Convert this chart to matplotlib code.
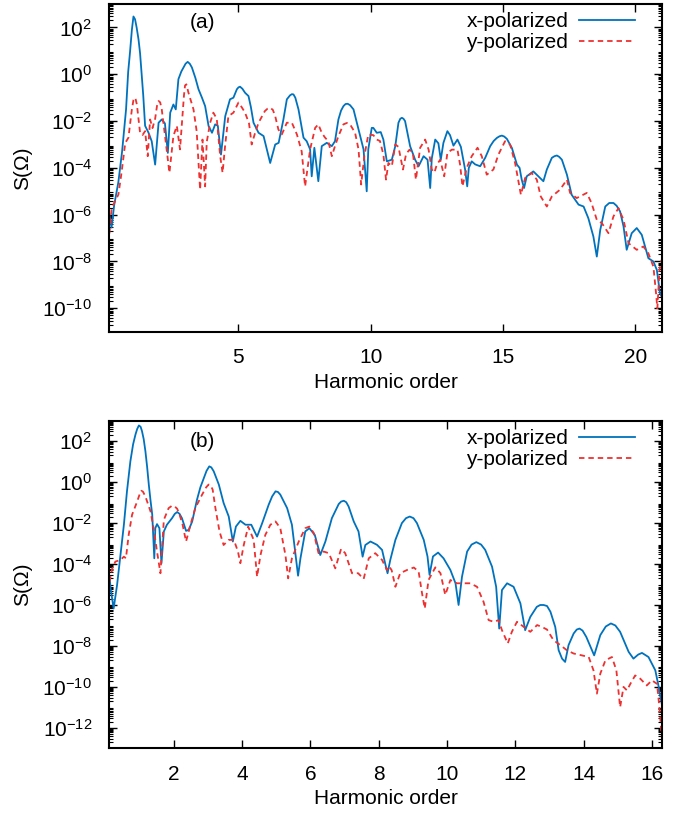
import matplotlib
matplotlib.use("Agg")
import matplotlib.pyplot as plt
import numpy as np
from matplotlib.ticker import FixedLocator, LogLocator, NullFormatter

plt.rcParams['font.family'] = ['Liberation Sans', 'DejaVu Sans']
plt.rcParams['mathtext.fontset'] = 'custom'
plt.rcParams['mathtext.rm'] = 'Liberation Sans'
plt.rcParams['mathtext.it'] = 'Liberation Sans'
plt.rcParams['mathtext.default'] = 'regular'

# ---- panel (a): harmonic order vs log10 S(Omega) ----
xa_blue = [0.12, 0.2, 0.3, 0.46, 0.6, 0.75, 0.83, 0.9, 0.97, 1.03, 1.09, 1.15, 1.22, 1.28, 1.34,
           1.4, 1.47, 1.6, 1.72, 1.85, 1.98, 2.1,
           2.22, 2.33, 2.42, 2.54, 2.63, 2.73, 2.84, 2.92, 3.0, 3.08, 3.16, 3.24, 3.37, 3.49, 3.62,
           3.74, 3.87, 4.0, 4.12, 4.22,
           4.34, 4.5, 4.68, 4.81, 4.94, 5.0, 5.06, 5.15, 5.25, 5.38, 5.47, 5.57, 5.76, 5.95, 6.2,
           6.39, 6.52, 6.7, 6.83, 6.95, 7.02, 7.08, 7.15, 7.27, 7.46, 7.58, 7.71, 7.77, 7.87, 8.02,
           8.15, 8.34, 8.53, 8.65, 8.78, 8.88, 8.97, 9.05, 9.13, 9.22, 9.35, 9.54, 9.73, 9.85, 9.91,
           10.04, 10.1, 10.23, 10.38, 10.48, 10.61, 10.8, 10.93,
           11.05, 11.12, 11.18, 11.24, 11.3, 11.49, 11.68, 11.81, 12.0, 12.15, 12.25, 12.31, 12.44,
           12.56, 12.65, 12.75, 12.9, 13.0, 13.13, 13.28, 13.41, 13.57, 13.65, 13.71, 13.82, 13.95,
           14.14, 14.33, 14.52, 14.65, 14.77, 14.87, 14.96, 15.05, 15.15, 15.34, 15.53, 15.63,
           15.71, 15.8, 15.9, 16.15, 16.34, 16.53, 16.66, 16.85, 16.95, 17.04, 17.13, 17.23, 17.42,
           17.6, 17.86, 18.05, 18.23, 18.42, 18.55, 18.68, 18.87, 19.02, 19.18, 19.3, 19.43, 19.56,
           19.68, 19.87, 20.06, 20.25, 20.5, 20.69, 20.82, 20.94, 21.0]
ya_blue = [-6.0, -6.55, -5.6, -4.6, -3.3, -1.5, 0.1, 0.95, 1.9, 2.47, 2.35, 2.0, 1.5, 0.9, 0.0,
           -0.9, -2.2, -2.5, -2.86, -3.86, -2.07,
           -1.93, -2.1, -3.36, -1.64, -1.29, -1.5, -0.21, 0.12, 0.29, 0.45, 0.53, 0.45, 0.29,
           -0.15, -0.64, -1.0, -1.36, -2.21, -2.5, -2.14, -2.2,
           -3.43, -1.79, -1.07, -1.0, -0.64, -0.56, -0.53, -0.62, -0.79, -0.93, -1.4, -2.07, -2.5,
           -2.64, -3.79, -3.0, -2.93, -1.93, -1.07, -0.9, -0.85, -0.86, -1.0, -1.5, -2.71, -2.86,
           -3.21, -4.36, -3.14, -4.57, -3.07, -2.93, -3.07, -2.86, -1.93, -1.55, -1.36, -1.27,
           -1.26, -1.32, -1.5, -2.36, -3.21, -5.0, -3.2,
           -2.29, -2.29, -2.5, -2.47, -2.79, -3.72, -3.65, -3.07,
           -2.07, -1.9, -1.86, -1.9, -2.0, -3.07, -3.65,
           -3.93, -3.5, -3.65, -4.86, -3.6, -2.79, -2.95, -3.65, -2.93, -2.43, -2.6, -3.05, -2.79,
           -3.1, -4.07, -4.79, -4.0, -3.72, -3.85, -3.93, -3.57, -3.07, -2.85, -2.72, -2.65,
           -2.62, -2.66, -2.76, -3.15, -3.86, -4.0, -4.5, -4.86, -4.36, -4.15, -4.36, -4.57, -4.07,
           -3.57, -3.5, -3.47, -3.53, -3.65, -4.29, -5.15, -5.57, -5.65, -6.15, -6.93, -7.79, -6.65,
           -5.65, -5.5, -5.5, -5.62, -5.86, -6.5, -7.5, -6.79, -6.57, -6.86, -7.86, -8.0, -8.36,
           -9.36, -9.5]

xa_red = [0.12, 0.2, 0.3, 0.46, 0.58, 0.72, 0.84, 0.97, 1.03, 1.07, 1.11, 1.16, 1.28, 1.37, 1.47,
          1.57, 1.66, 1.75, 1.85, 1.92, 1.98, 2.04, 2.1, 2.22, 2.39, 2.54, 2.67, 2.79, 2.88, 2.94,
          2.98, 3.03, 3.11, 3.3, 3.42, 3.55,
          3.64, 3.74, 3.8, 3.93, 4.05, 4.18, 4.31, 4.4, 4.5, 4.62, 4.81, 5.0, 5.12, 5.25, 5.4,
          5.5, 5.63, 5.76, 6.0, 6.1, 6.2, 6.3, 6.39, 6.51, 6.64, 6.83, 7.02, 7.21, 7.39, 7.52,
          7.71, 7.9, 8.02, 8.15, 8.27, 8.4, 8.53, 8.65, 8.78, 8.97, 9.1, 9.22, 9.41, 9.54, 9.64,
          9.76, 9.91, 10.1,
          10.23, 10.35, 10.48, 10.58, 10.67, 10.8, 10.93, 11.05, 11.22, 11.34, 11.47, 11.6, 11.71,
          11.87, 12.06, 12.19, 12.31, 12.41, 12.5, 12.63, 12.78, 12.9, 13.07, 13.28, 13.38, 13.47,
          13.63, 13.82, 14.04, 14.2, 14.39, 14.64, 14.83, 15.08, 15.27, 15.46, 15.68, 15.84, 16.09,
          16.28, 16.43, 16.66, 16.85, 17.16, 17.42, 17.54, 17.79, 18.17, 18.35, 18.55, 18.74,
          18.99, 19.18, 19.37, 19.56, 19.75, 20.06, 20.31, 20.5, 20.69, 20.79, 20.84, 20.92, 21.0]
ya_red = [-6.8, -5.8, -5.5, -5.14, -4.2, -2.93, -2.71, -1.5, -1.1, -1.0, -1.05, -1.3, -2.5, -2.6,
          -2.43, -3.5, -1.93, -2.3, -1.9, -1.35, -1.14, -1.2, -1.5, -2.6, -4.21, -2.64, -2.2,
          -3.21, -1.79, -0.9, -0.48, -0.43, -0.79,
          -1.5, -2.43, -4.93, -2.79, -4.79, -2.9, -2.07, -1.64, -1.9, -3.5, -4.21, -3.0, -1.79,
          -1.64, -1.21, -1.4, -1.64, -2.1, -3.0, -2.5, -2.07, -1.57, -1.47, -1.43, -1.52, -1.79,
          -2.36, -2.57, -2.07, -2.07, -2.57, -3.29, -4.79, -3.21, -2.29, -2.14, -2.5, -2.7,
          -2.86, -3.5, -3.07, -2.64, -2.14, -2.08, -2.14, -2.5, -3.21, -4.71, -3.5, -2.57, -2.6,
          -2.79, -2.85, -3.43, -4.5,
          -3.79, -3.93, -3.0, -3.1, -4.07, -3.4, -3.22, -3.4, -4.5, -3.14, -2.79, -3.22, -4.07,
          -4.2, -3.86, -3.65, -4.36, -3.36, -3.22, -3.22, -3.86, -4.79, -4.0, -3.5, -3.14, -3.5,
          -4.29, -4.07, -3.43, -2.86, -3.0, -3.79, -5.15, -4.43, -4.22, -4.5, -5.22, -5.65, -5.22,
          -4.93, -4.5, -5.07, -5.29, -5.07, -5.5, -6.22, -6.36, -6.79, -6.07, -5.72, -6.22, -7.22,
          -7.5, -7.36, -7.65, -8.22, -9.36, -10.0, -8.36, -7.93]

# ---- panel (b) ----
xb_blue = [0.12, 0.15, 0.24, 0.34, 0.44, 0.54, 0.63, 0.73, 0.81, 0.88, 0.93, 0.98, 1.03, 1.07,
           1.12, 1.17, 1.22, 1.27, 1.32, 1.37, 1.43,
           1.46, 1.51, 1.58, 1.64, 1.71, 1.8, 1.95, 2.03, 2.1, 2.17, 2.24, 2.36, 2.44, 2.54, 2.68,
           2.78, 2.88, 2.96, 3.04, 3.1, 3.17, 3.32, 3.46, 3.61, 3.73, 3.82, 3.95, 4.1, 4.27, 4.44,
           4.59, 4.78, 4.88, 4.98, 5.05, 5.12, 5.32,
           5.46, 5.58, 5.64, 5.71, 5.85, 5.97, 6.13, 6.29, 6.44, 6.63, 6.83, 6.9, 6.98, 7.05, 7.12,
           7.27, 7.41, 7.53, 7.61, 7.76, 7.95, 8.1, 8.2, 8.26, 8.34, 8.49, 8.68, 8.8, 8.91, 9.02,
           9.12, 9.32, 9.43, 9.49,
           9.59, 9.74, 9.9, 10.1, 10.25, 10.34, 10.44, 10.59, 10.72, 10.86, 11.0, 11.12, 11.32,
           11.44, 11.53, 11.61, 11.76, 11.95, 12.15, 12.29, 12.44, 12.63, 12.73, 12.83, 12.93,
           13.03, 13.17, 13.27, 13.37, 13.46, 13.56, 13.71, 13.8, 13.88, 13.97, 14.08, 14.31, 14.49,
           14.65, 14.8, 14.93, 15.07, 15.32, 15.46, 15.6, 15.71, 15.9, 16.1, 16.2, 16.26, 16.3]
yb_blue = [-4.6, -5.19, -6.17, -5.03, -3.56, -2.08, -0.45, 1.02, 1.85, 2.33, 2.6, 2.77, 2.7, 2.49,
           2.1, 1.51, 0.75, -0.13, -0.9, -1.59, -3.72, -2.25, -2.05, -2.25, -3.96, -2.41, -2.08,
           -1.76, -1.55, -1.46, -1.55, -1.76, -2.38, -2.33, -1.92, -0.86, -0.25, 0.2, 0.55, 0.77,
           0.72, 0.53, -0.12, -1.02, -1.68, -2.9, -2.17, -1.89, -2.08,
           -2.08, -2.66, -2.0, -1.1, -0.7, -0.45, -0.48, -0.61, -1.27, -2.08, -3.72, -4.57, -3.72,
           -2.41, -2.25, -2.58, -3.56, -2.9, -1.76, -1.07, -0.95, -0.91, -0.98, -1.19, -1.92, -2.41,
           -3.64, -3.07, -2.9, -3.06, -3.31, -4.04, -4.45, -3.8, -2.82, -2.0, -1.76, -1.68, -1.76,
           -2.0, -2.82, -3.63, -4.53, -3.63, -3.44, -3.72, -4.29, -4.94, -6.0, -4.62, -3.39, -3.05,
           -2.93, -3.05, -3.31, -4.13, -5.11, -7.15, -5.27, -4.94, -5.11, -5.92, -7.23, -6.58,
           -6.09, -6.0, -6.0, -6.05, -6.33, -7.07, -8.21, -8.62, -8.78, -7.96, -7.39, -7.2, -7.15,
           -7.25, -7.56, -8.46, -7.47, -7.05, -6.9, -7.0, -7.31, -8.29, -8.62, -8.42, -8.34, -8.54,
           -9.19, -10.0, -10.6, -10.9]

xb_red = [0.12, 0.2, 0.29, 0.44, 0.54, 0.6, 0.68, 0.78, 0.93, 1.0, 1.05, 1.1, 1.17, 1.32, 1.41,
          1.51, 1.61, 1.71, 1.85, 1.95, 2.03, 2.1, 2.17, 2.26, 2.36, 2.49, 2.63, 2.83, 2.95, 3.02,
          3.08, 3.14, 3.22, 3.34, 3.46, 3.61,
          3.76, 3.88, 3.95, 4.05, 4.18, 4.34, 4.44, 4.54, 4.68, 4.83, 4.98, 5.12, 5.27, 5.35, 5.46,
          5.66, 5.85, 5.97, 6.1, 6.24, 6.39, 6.54, 6.73, 6.9, 7.02, 7.22, 7.4, 7.56, 7.71, 7.9,
          8.1, 8.24, 8.3, 8.38, 8.49, 8.63, 8.83, 9.03, 9.17, 9.27, 9.35, 9.46, 9.66, 9.81, 9.95,
          10.1, 10.29, 10.49, 10.68, 10.88, 11.07, 11.22, 11.37, 11.51, 11.61, 11.78, 11.9, 12.05,
          12.25, 12.44, 12.64, 12.78, 12.93, 13.12, 13.32, 13.51, 13.71, 13.95, 14.15, 14.29, 14.39,
          14.49, 14.64, 14.83, 14.96, 15.07, 15.17, 15.27, 15.37, 15.51, 15.66, 15.85, 16.0, 16.15,
          16.23, 16.27, 16.3]
yb_red = [-4.86, -4.21, -3.88, -3.8, -3.64, -3.72, -2.58, -1.59, -0.94, -0.6, -0.42, -0.47, -0.7,
          -1.43, -2.25, -3.39, -4.45, -1.84, -1.27, -1.15, -1.19, -1.3, -1.59, -2.08, -2.9, -2.08,
          -1.27, -0.61, -0.25, -0.12, -0.15, -0.37,
          -1.27, -2.41, -3.07, -2.82, -2.82, -3.39, -3.96, -3.07, -2.17, -2.82, -4.62, -3.56, -2.58,
          -2.08, -1.92, -2.25, -3.56, -4.7, -3.72, -2.9, -2.25, -2.17, -2.49, -3.47, -3.39, -3.47,
          -4.21, -3.26, -3.47, -4.45, -4.45, -4.73, -3.72, -3.47, -3.8, -4.29, -4.1, -4.3, -5.11,
          -4.45, -4.29, -4.17, -4.37, -5.43, -6.17, -4.78, -4.16, -4.45, -5.51, -4.78, -4.94, -4.94,
          -4.94, -5.11, -5.84, -6.74, -6.82, -6.74, -7.23, -7.88, -7.31, -6.82, -7.07, -7.31, -6.98,
          -7.07, -7.2, -7.72, -7.96, -8.21, -8.37, -8.46, -8.54, -9.19, -10.33, -9.35, -8.7, -8.54,
          -9.19, -10.99, -10.0, -10.17, -9.85, -9.44, -9.6, -9.93, -9.68, -9.85, -11.15, -12.1, -12.6]

BLUE = '#0072bd'
RED = '#ee3030'
FS = 15

fig = plt.figure(figsize=(6.89, 8.15), dpi=100)
ax1 = fig.add_axes([0.158, 0.593, 0.803, 0.402])
ax2 = fig.add_axes([0.158, 0.0818, 0.803, 0.402])

panels = [
    (ax1, xa_blue, ya_blue, xa_red, ya_red, (0.1, 21.02), (1e-11, 1e3), [5, 10, 15, 20],
     np.arange(-10, 3, 2), '(a)', 0.945),
    (ax2, xb_blue, yb_blue, xb_red, yb_red, (0.1, 16.3), (1e-13, 1e3), list(range(2, 17, 2)),
     np.arange(-12, 3, 2), '(b)', 0.937),
]

for ax, xb, yb, xr, yr, xlim, ylim, xt, ye, tag, tag_y in panels:
    ax.plot(xb, 10.0 ** np.array(yb), color=BLUE, lw=1.3, label='x-polarized')
    ax.plot(xr, 10.0 ** np.array(yr), color=RED, lw=1.3, ls=(0, (3.0, 2.2)), label='y-polarized')
    ax.set_yscale('log')
    ax.set_xlim(*xlim)
    ax.set_ylim(*ylim)
    ax.set_xticks(xt)
    ax.set_xticklabels([str(v) for v in xt])
    ax.yaxis.set_major_locator(FixedLocator(10.0 ** ye))
    ax.set_yticklabels(['$10^{%d}$' % e for e in ye])
    ax.yaxis.set_minor_locator(LogLocator(base=10, subs=np.arange(2, 10), numticks=40))
    ax.yaxis.set_minor_formatter(NullFormatter())
    ax.tick_params(axis='both', which='major', direction='in', top=True, right=True,
                   length=6, width=1.0, labelsize=FS)
    ax.tick_params(axis='y', which='major', pad=12)
    ax.tick_params(axis='x', which='major', pad=12)
    ax.tick_params(axis='y', which='minor', direction='in', right=True, length=3, width=0.8)
    for sp in ax.spines.values():
        sp.set_linewidth(1.5)
    ax.set_xlabel('Harmonic order', fontsize=FS)
    ax.set_ylabel('S(Ω)', fontsize=FS)
    ax.xaxis.set_label_coords(0.5, -0.125)
    ax.yaxis.set_label_coords(-0.138, 0.5)
    ax.text(0.17, tag_y, tag, transform=ax.transAxes, fontsize=FS, ha='center', va='center')
    ax.legend(loc='upper right', bbox_to_anchor=(0.951, 0.975), frameon=False, fontsize=FS,
              markerfirst=False, handlelength=2.7, handletextpad=0.5, borderpad=0.0,
              borderaxespad=0.0, labelspacing=0.1)

fig.savefig('out.png', dpi=100)
